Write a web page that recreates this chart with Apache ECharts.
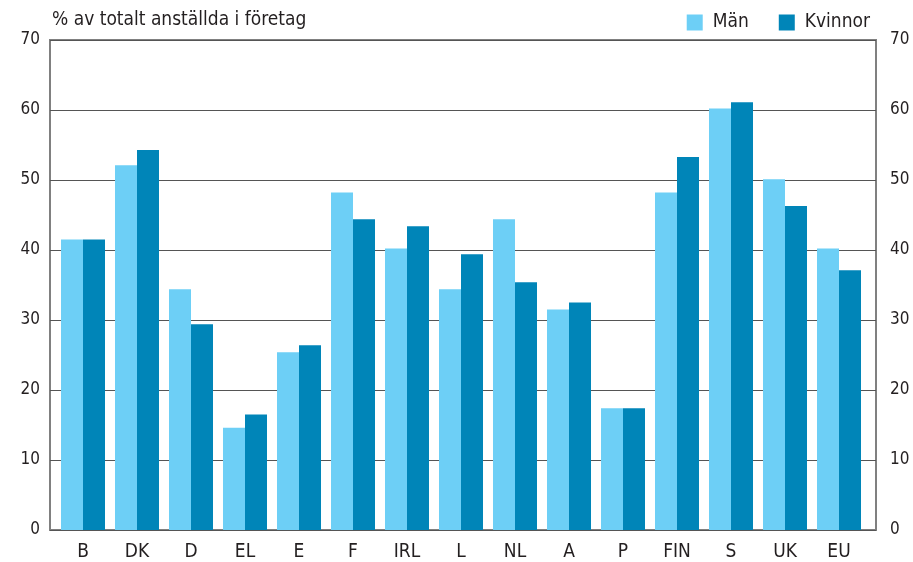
<!DOCTYPE html>
<html lang="sv">
<head>
<meta charset="UTF-8">
<title>Andel anställda</title>
<style>
  html, body { margin: 0; padding: 0; background: #fff; }
  #chart { width: 913px; height: 562px; }
</style>
</head>
<body>
<div id="chart"></div>
<script src="https://cdn.jsdelivr.net/npm/echarts@6/dist/echarts.min.js"></script>
<script>
// länder
const countries = ['B', 'DK', 'D', 'EL', 'E', 'F', 'IRL', 'L', 'NL', 'A', 'P', 'FIN', 'S', 'UK', 'EU'];
const man = [41.5, 52.1, 34.4, 14.6, 25.4, 48.2, 40.2, 34.4, 44.4, 31.5, 17.4, 48.2, 60.2, 50.1, 40.2];
const kvinnor = [41.5, 54.3, 29.4, 16.5, 26.4, 44.4, 43.4, 39.4, 35.4, 32.5, 17.4, 53.3, 61.1, 46.3, 37.1];
const yTicks = [0, 10, 20, 30, 40, 50, 60, 70];

const font = '"DejaVu Sans Condensed", "Liberation Sans Narrow", "Liberation Sans", sans-serif';
const txt = '#231f20';

let chart = echarts.init(document.getElementById('chart'), null, { renderer: 'canvas' });

function yAxis(pos, grid, visible) {
  return {
    type: 'value',
    gridIndex: grid,
    position: pos,
    min: yTicks[0],
    max: yTicks[yTicks.length - 1],
    interval: 10,
    show: visible,
    axisLine: { show: false },
    axisTick: { show: false },
    axisLabel: {
      color: txt, fontFamily: font, fontSize: 17,
      margin: pos === 'left' ? 10 : 14
    },
    splitLine: { show: visible && pos === 'left', lineStyle: { color: '#555', width: 1 } }
  };
}

let option = {
  animation: false,
  backgroundColor: '#fff',
  title: {
    text: '% av totalt anställda i företag',
    left: 47, top: 6,
    textStyle: { color: txt, fontFamily: font, fontSize: 19, fontWeight: 'normal' }
  },
  legend: {
    right: 38, top: 8,
    itemWidth: 16, itemHeight: 16, itemGap: 30,
    icon: 'rect',
    textStyle: { color: txt, fontFamily: font, fontSize: 19, padding: [0, 0, 0, 5] },
    data: ['Män', 'Kvinnor']
  },
  grid: [
    // ram + stödlinjer
    { left: 50, right: 37, top: 40, bottom: 32, show: true, borderColor: '#808080', borderWidth: 2 },
    // staplarna, lite indragna
    { left: 56, right: 47, top: 40, bottom: 32 }
  ],
  xAxis: [
    { type: 'category', gridIndex: 0, data: countries, show: false },
    {
      type: 'category',
      gridIndex: 1,
      data: countries,
      axisLine: { show: false },
      axisTick: { show: false },
      axisLabel: { color: txt, fontFamily: font, fontSize: 19, margin: 13 }
    }
  ],
  yAxis: [yAxis('left', 0, true), yAxis('right', 0, true), yAxis('left', 1, false)],
  series: [
    {
      name: 'Män', type: 'bar', data: man,
      xAxisIndex: 1, yAxisIndex: 2,
      itemStyle: { color: '#6dcff6' },
      barGap: '0%', barCategoryGap: '18.5%'
    },
    {
      name: 'Kvinnor', type: 'bar', data: kvinnor,
      xAxisIndex: 1, yAxisIndex: 2,
      itemStyle: { color: '#0085b8' },
      barGap: '0%', barCategoryGap: '18.5%'
    }
  ]
};

chart.setOption(option);
</script>
</body>
</html>
